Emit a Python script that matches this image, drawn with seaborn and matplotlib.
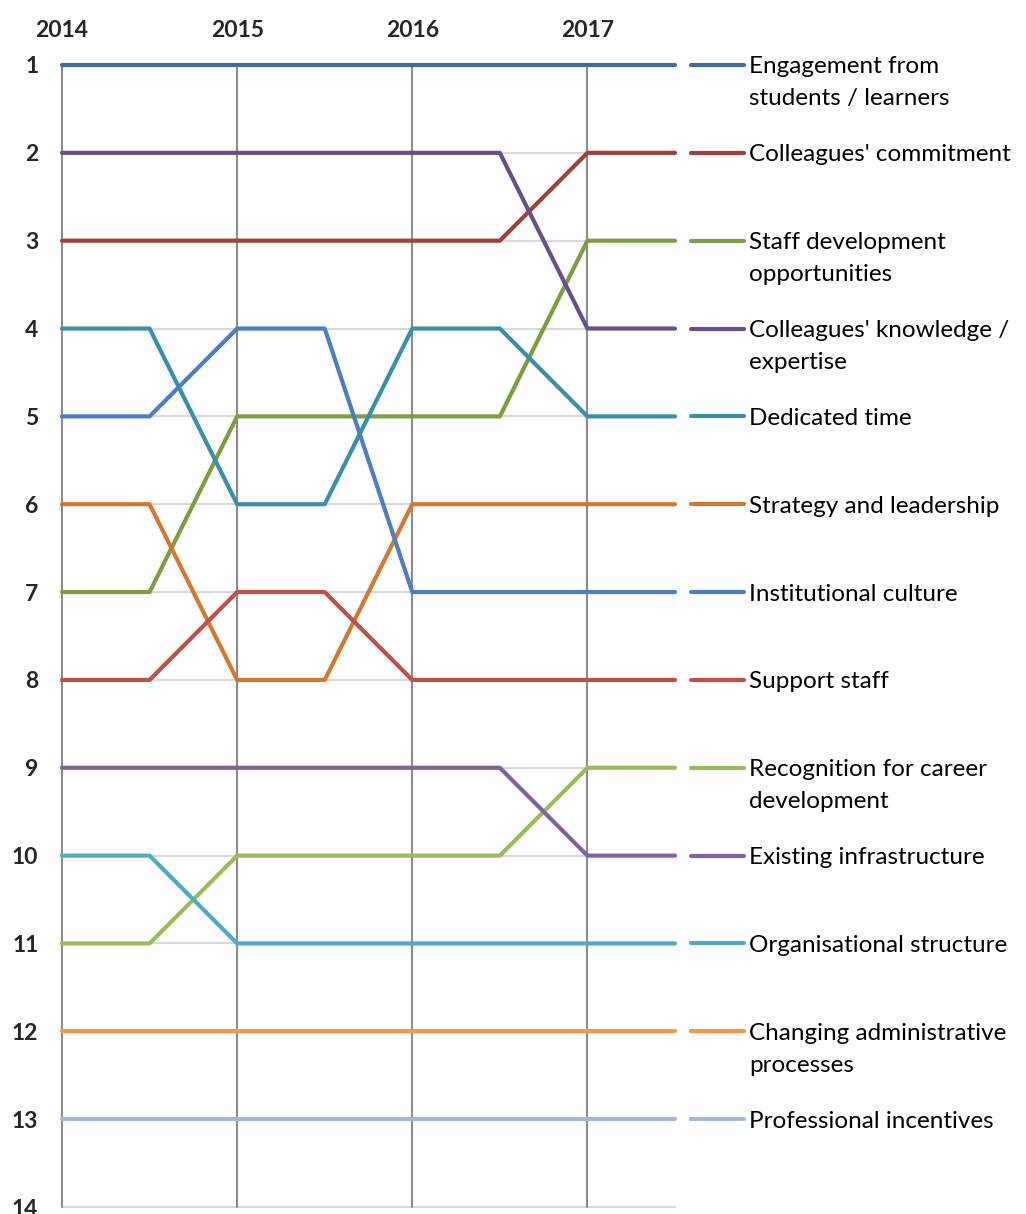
import matplotlib
matplotlib.use("Agg")
import matplotlib.pyplot as plt
import matplotlib.transforms as mtransforms
import seaborn as sns
import pandas as pd

years = [2014, 2015, 2016, 2017]
labels = [
    "Engagement from\nstudents / learners",
    "Colleagues' commitment",
    "Staff development\nopportunities",
    "Colleagues' knowledge /\nexpertise",
    "Dedicated time",
    "Strategy and leadership",
    "Institutional culture",
    "Support staff",
    "Recognition for career\ndevelopment",
    "Existing infrastructure",
    "Organisational structure",
    "Changing administrative\nprocesses",
    "Professional incentives",
]
ranks = [
    [1, 1, 1, 1],
    [3, 3, 3, 2],
    [7, 5, 5, 3],
    [2, 2, 2, 4],
    [4, 6, 4, 5],
    [6, 8, 6, 6],
    [5, 4, 7, 7],
    [8, 7, 8, 8],
    [11, 10, 10, 9],
    [9, 9, 9, 10],
    [10, 11, 11, 11],
    [12, 12, 12, 12],
    [13, 13, 13, 13],
]
colors = [
    "#3D6BA3", "#A43E3B", "#7D9E40", "#65508C", "#3590A8", "#D4782E",
    "#4A7DC4", "#C24E4A", "#9BBB59", "#7F62A0", "#4BACC6", "#F79646",
    "#A5B8D8",
]

# each year's rank is held for half a year, then the line moves to the next rank
rows = []
for lab, r in zip(labels, ranks):
    for y, v in zip(years, r):
        rows.append({"series": lab, "x": y, "rank": v})
        rows.append({"series": lab, "x": y + 0.5, "rank": v})
df = pd.DataFrame(rows)

sns.set_theme(style="white")
plt.rcParams["font.family"] = ["Lato", "DejaVu Sans"]

fig = plt.figure(figsize=(10.26, 12.14), dpi=100)
ax = fig.add_axes([62 / 1026, 1 - 1207 / 1214, (675 - 62) / 1026, (1207 - 65) / 1214])

# grid
for r in range(1, 15):
    ax.plot([years[0], years[-1] + 0.5], [r, r], color="#D9D9D9", lw=1.5, zorder=1, clip_on=False)
for y in years:
    ax.axvline(y, color="#8C8C8C", lw=1.5, zorder=1)

sns.lineplot(data=df, x="x", y="rank", hue="series", palette=dict(zip(labels, colors)),
             hue_order=labels, sort=False, estimator=None, legend=False, lw=3.0, ax=ax,
             zorder=3)
for line in ax.lines:
    line.set_solid_capstyle("round")
    line.set_clip_on(False)

ax.set_xlim(years[0], years[-1] + 0.5)
ax.set_ylim(14, 1)
for s in ax.spines.values():
    s.set_visible(False)
ax.set_xlabel("")
ax.set_ylabel("")
ax.xaxis.tick_top()
ax.set_xticks(years)
ax.set_xticklabels([str(y) for y in years], fontsize=16.5, fontweight="bold")
ax.set_yticks(range(1, 15))
ax.set_yticklabels([str(i) for i in range(1, 15)], fontsize=16.5, fontweight="bold")
ax.tick_params(axis="x", length=0, pad=17)
ax.tick_params(axis="y", length=0, pad=17)

# legend at end ranks
trans = mtransforms.blended_transform_factory(ax.transAxes, ax.transData)
x0 = (691 - 62) / (675 - 62)
x1 = (744 - 62) / (675 - 62)
xt = (749 - 62) / (675 - 62)
for lab, r, c in zip(labels, ranks, colors):
    end = r[-1]
    ax.plot([x0, x1], [end, end], color=c, lw=3.0, transform=trans, clip_on=False,
            solid_capstyle="round")
    parts = lab.split("\n")
    for i, p in enumerate(parts):
        tr = mtransforms.offset_copy(trans, fig=fig, x=0, y=-(i * 32 + 2) * 72 / 100, units="points")
        ax.text(xt, end, p, transform=tr, va="center", ha="left", fontsize=17.5,
                color="black", clip_on=False)

fig.savefig("out.png", dpi=100)
